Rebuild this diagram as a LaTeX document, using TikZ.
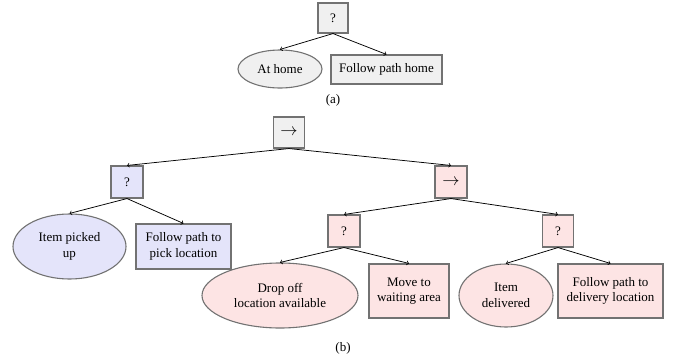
\documentclass[tikz,border=0pt]{standalone}
\usepackage{fontspec}
\setmainfont{Liberation Serif}
\usetikzlibrary{shapes.geometric}
\definecolor{bordergray}{HTML}{727272}
\definecolor{fillgray}{HTML}{F0F0F0}
\definecolor{fillblue}{HTML}{E4E4FA}
\definecolor{fillpink}{HTML}{FDE4E4}
\newcommand{\seqarrow}{{\fontsize{17}{19}\selectfont$\rightarrow$}}
\tikzset{
  base/.style={draw=bordergray, line width=1.1pt, inner sep=0pt, align=center,
    font=\fontsize{13}{15.6}\selectfont},
  boxnode/.style={base, rectangle},
  ellnode/.style={base, ellipse},
  gry/.style={fill=fillgray},
  blu/.style={fill=fillblue},
  pnk/.style={fill=fillpink},
  edge/.style={->, line width=0.75pt, black},
  caption/.style={font=\fontsize{13}{15.6}\selectfont, inner sep=0pt}
}
\begin{document}
\begin{tikzpicture}[x=1pt,y=-1pt]
\useasboundingbox (0,0) rectangle (673,362);
% (a)
\node[boxnode,gry,minimum width=30pt,minimum height=30pt] (aroot) at (333,18) {?};
\node[ellnode,gry,minimum width=84pt,minimum height=38pt] (ahome) at (280,69) {At home};
\node[boxnode,gry,minimum width=111pt,minimum height=29pt] (afollow) at (386.5,69.5) {Follow path home};
\node[caption] (acap) at (333,100) {(a)};
\draw[edge] (aroot.south) -- (ahome.north);
\draw[edge] (aroot.south) -- (afollow.north);
% (b)
\node[boxnode,gry,minimum width=31pt,minimum height=31pt] (broot) at (289,132.5) {\seqarrow};
\node[boxnode,blu,minimum width=32pt,minimum height=32pt] (bsel) at (127,182) {?};
\node[boxnode,pnk,minimum width=32pt,minimum height=32pt] (bseq) at (451,182) {\seqarrow};
\node[ellnode,blu,minimum width=113pt,minimum height=65pt] (bitem) at (69.5,246.5) {Item picked\\up};
\node[boxnode,blu,minimum width=95pt,minimum height=45pt] (bpick) at (183.5,246.5) {Follow path to\\pick location};
\node[boxnode,pnk,minimum width=32pt,minimum height=32pt] (bselb) at (344,231) {?};
\node[boxnode,pnk,minimum width=31pt,minimum height=32pt] (bselc) at (558,231) {?};
\node[ellnode,pnk,minimum width=156pt,minimum height=65pt] (bdrop) at (280,295.5) {Drop off\\location available};
\node[boxnode,pnk,minimum width=80pt,minimum height=54pt] (bmove) at (409,291) {Move to\\waiting area};
\node[ellnode,pnk,minimum width=94pt,minimum height=63pt] (bdeliv) at (506,295.5) {Item\\delivered};
\node[boxnode,pnk,minimum width=105pt,minimum height=54pt] (bpath) at (610.5,291) {Follow path to\\delivery location};
\node[caption] (bcap) at (343,348) {(b)};
\draw[edge] (broot.south) -- (bsel.north);
\draw[edge] (broot.south) -- (bseq.north);
\draw[edge] (bsel.south) -- (bitem.north);
\draw[edge] (bsel.south) -- (bpick.north);
\draw[edge] (bseq.south) -- (bselb.north);
\draw[edge] (bseq.south) -- (bselc.north);
\draw[edge] (bselb.south) -- (bdrop.north);
\draw[edge] (bselb.south) -- (bmove.north);
\draw[edge] (bselc.south) -- (bdeliv.north);
\draw[edge] (bselc.south) -- (bpath.north);
\end{tikzpicture}
\end{document}
